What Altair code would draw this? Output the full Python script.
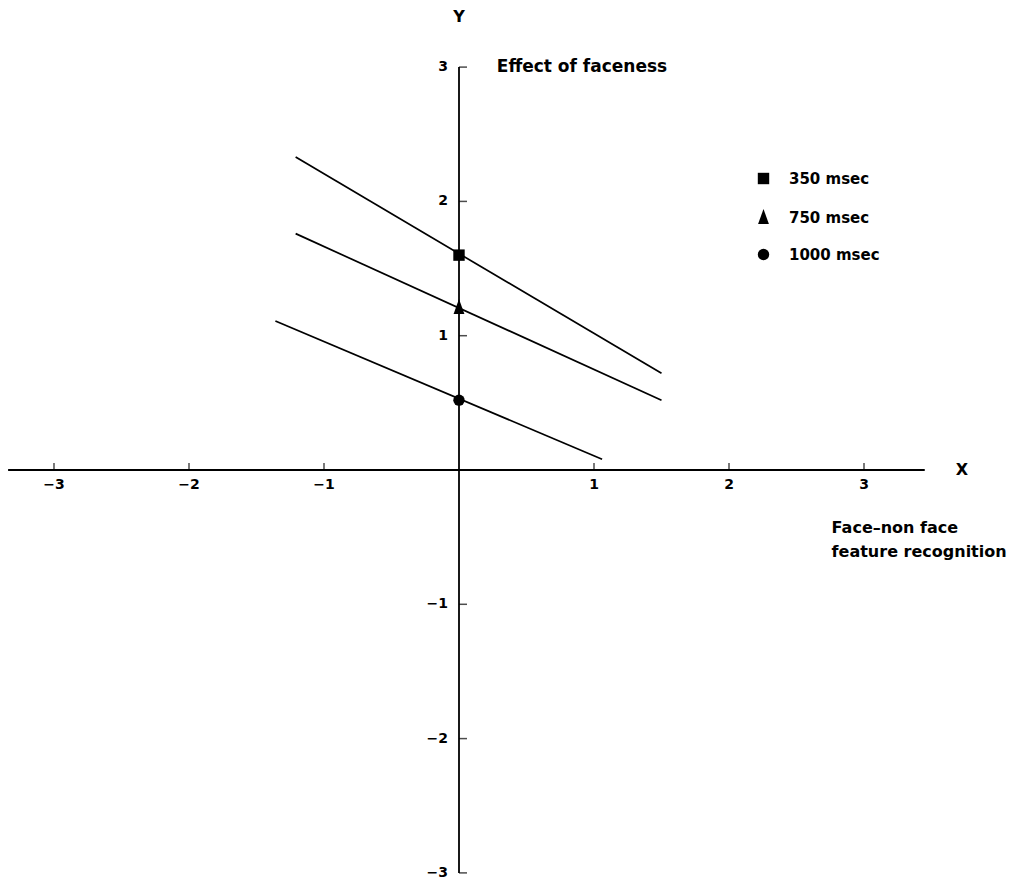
import altair as alt
import pandas as pd

# ---- data ----
series = ["350 msec", "750 msec", "1000 msec"]
line_x_start = [-1.21, -1.21, -1.36]
line_y_start = [2.33, 1.76, 1.11]
line_x_end = [1.50, 1.50, 1.06]
line_y_end = [0.72, 0.52, 0.08]
marker_x = [0.0, 0.0, 0.0]
marker_y = [1.60, 1.21, 0.52]
shape_names = ["square", "M0,-1.5L0.95,1.15L-0.95,1.15Z", "circle"]

x_tick_values = [-3, -2, -1, 1, 2, 3]
x_tick_labels = ["−3", "−2", "−1", "1", "2", "3"]
y_tick_values = [-3, -2, -1, 1, 2, 3]
y_tick_labels = ["−3", "−2", "−1", "1", "2", "3"]

x_axis_extent = [-3.34, 3.45]
y_axis_extent = [-3.0, 3.0]

annot_text = ["Y", "X", "Effect of faceness", "Face–non face", "feature recognition"]
annot_x = [0.0, 3.68, 0.28, 2.76, 2.76]
annot_y = [3.37, 0.0, 3.00, -0.43, -0.61]
annot_size = [16, 16, 17, 16, 16]
annot_align = ["center", "left", "left", "left", "left"]

FONT = "DejaVu Sans"

# ---- tables ----
lines_df = pd.DataFrame({
    "series": series * 2,
    "x": line_x_start + line_x_end,
    "y": line_y_start + line_y_end,
})
markers_df = pd.DataFrame({"series": series, "x": marker_x, "y": marker_y})
xt_df = pd.DataFrame({"v": x_tick_values, "label": x_tick_labels, "zero": 0.0})
yt_df = pd.DataFrame({"v": y_tick_values, "label": y_tick_labels, "zero": 0.0})
xaxis_df = pd.DataFrame({"x": [x_axis_extent[0]], "x2": [x_axis_extent[1]], "y": [0.0]})
yaxis_df = pd.DataFrame({"y": [y_axis_extent[0]], "y2": [y_axis_extent[1]], "x": [0.0]})
annot_df = pd.DataFrame({"text": annot_text, "x": annot_x, "y": annot_y,
                         "size": annot_size, "align": annot_align})

xs = alt.Scale(domain=[-3.3407, 4.1407], nice=False, zero=False)
ys = alt.Scale(domain=[-3.0529, 3.4401], nice=False, zero=False)

X = lambda f: alt.X(f, type="quantitative", scale=xs, axis=None)
Y = lambda f: alt.Y(f, type="quantitative", scale=ys, axis=None)

xaxis = alt.Chart(xaxis_df).mark_rule(color="black", strokeWidth=1.8).encode(
    x=X("x"), x2="x2", y=Y("y"))
yaxis = alt.Chart(yaxis_df).mark_rule(color="black", strokeWidth=1.8).encode(
    x=X("x"), y=Y("y"), y2="y2")

xticks = alt.Chart(xt_df).mark_tick(orient="vertical", size=7, thickness=1.5,
                                    yOffset=-3.5, color="black").encode(
    x=X("v"), y=Y("zero"))
yticks = alt.Chart(yt_df).mark_tick(orient="horizontal", size=8, thickness=1.5,
                                    xOffset=4, color="black").encode(
    x=X("zero"), y=Y("v"))

xlabels = alt.Chart(xt_df).mark_text(font=FONT, fontSize=14, fontWeight="bold", dy=15,
                                     align="center", baseline="middle", color="black").encode(
    x=X("v"), y=Y("zero"), text="label")
ylabels = alt.Chart(yt_df).mark_text(font=FONT, fontSize=14, fontWeight="bold", dx=-11,
                                     align="right", baseline="middle", color="black").encode(
    x=X("zero"), y=Y("v"), text="label")

lines = alt.Chart(lines_df).mark_line(color="black", strokeWidth=1.7).encode(
    x=X("x"), y=Y("y"), detail="series:N")

markers = alt.Chart(markers_df).mark_point(filled=True, color="black", opacity=1, size=130).encode(
    x=X("x"), y=Y("y"),
    shape=alt.Shape("series:N", scale=alt.Scale(domain=series, range=shape_names),
                    legend=alt.Legend(title=None, orient="none", legendX=748, legendY=163,
                                      labelFont=FONT, labelFontSize=15, labelFontWeight="bold",
                                      labelColor="black",
                                      symbolSize=130, symbolFillColor="black",
                                      symbolStrokeColor="black", labelOffset=18,
                                      rowPadding=17, padding=0)),
)

annots_c = alt.Chart(annot_df).transform_filter(alt.datum.align == "center").mark_text(
    font=FONT, fontWeight="bold", align="center", baseline="middle",
    color="black").encode(x=X("x"), y=Y("y"), text="text",
                          size=alt.Size("size:Q", scale=None, legend=None))
annots_l = alt.Chart(annot_df).transform_filter(alt.datum.align == "left").mark_text(
    font=FONT, fontWeight="bold", align="left", baseline="middle",
    color="black").encode(x=X("x"), y=Y("y"), text="text",
                          size=alt.Size("size:Q", scale=None, legend=None))

chart = alt.layer(xaxis, yaxis, xticks, yticks, xlabels, ylabels, lines, markers,
                  annots_c, annots_l).properties(
    width=1010, height=872, padding=0,
    autosize=alt.AutoSizeParams(type="none"),
    background="white",
).configure_view(stroke=None)

chart.save("out.html", embed_options={"renderer": "svg", "actions": False})
